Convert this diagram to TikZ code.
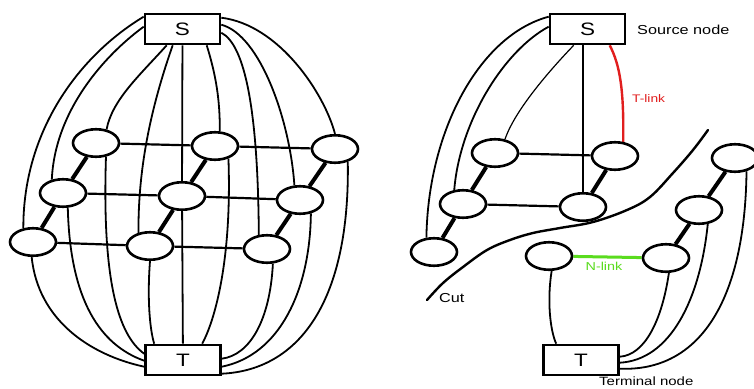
\documentclass[tikz,border=0pt]{standalone}
\usepackage{fontspec}
\newfontfamily\lf[FakeStretch=1.25]{Liberation Sans}
\usetikzlibrary{shapes.geometric,calc,backgrounds}
\definecolor{tred}{RGB}{225,30,30}
\definecolor{ngreen}{RGB}{90,220,30}
\begin{document}
\begin{tikzpicture}[x=1pt,y=-1pt,
  box/.style={draw,line width=2.6pt,minimum width=75pt,minimum height=30pt,inner sep=0pt,fill=white,font=\lf\fontsize{18}{20}\selectfont},
  vx/.style={ellipse,draw,line width=2.6pt,fill=white,minimum width=46pt,minimum height=27.5pt,inner sep=0pt},
  thin/.style={line width=1.8pt},
  hedge/.style={line width=2.2pt},
  dedge/.style={line width=4pt},
  lbl/.style={inner sep=0pt,anchor=west}
]
\useasboundingbox (0,0) rectangle (754,388);

% ---------- left graph ----------
\node[box] (S) at (182.5,29) {S};
\node[box] (T) at (183,360) {T};
\node[vx] (e11) at (96,143) {};
\node[vx] (e12) at (215,146) {};
\node[vx] (e13) at (335,149) {};
\node[vx] (e21) at (63,193) {};
\node[vx] (e22) at (182,196) {};
\node[vx] (e23) at (300,200) {};
\node[vx] (e31) at (33,242) {};
\node[vx] (e32) at (150,246) {};
\node[vx] (e33) at (267,249) {};

% ---------- right graph ----------
\node[box] (S2) at (587.5,29) {S};
\node[box] (T2) at (581,360) {T};
\node[vx] (r1) at (495,153) {};
\node[vx] (r2) at (615,156) {};
\node[vx] (r3) at (463,204) {};
\node[vx] (r4) at (583,207) {};
\node[vx] (r5) at (434,252) {};
\node[vx] (r6) at (735,158) {};
\node[vx] (r7) at (699,210) {};
\node[vx] (r8) at (549,256) {};
\node[vx] (r9) at (666,258) {};

\begin{pgfonlayer}{background}
\fill[white] (0,0) rectangle (754,388);
% left: source curves
\draw[thin] ($(S.north west)+(0,4)$) .. controls (80,55) and (23,130) .. (e31.125);
\draw[thin] ($(S.north west)+(0,14)$) .. controls (105,55) and (55,110) .. (e21.130);
\draw[thin] ($(S.south west)+(23,0)$) .. controls (140,75) and (112,100) .. (e11.52);
\draw[thin] ($(S.south west)+(29,0)$) .. controls (150,110) and (138,170) .. (e32.131);
\draw[thin] ($(S.south west)+(63,0)$) .. controls (216,75) and (220,100) .. (e12.72);
\draw[thin] ($(S.north east)+(0,20)$) .. controls (245,45) and (258,110) .. (e33.120);
\draw[thin] ($(S.north east)+(0,12)$) .. controls (260,35) and (290,120) .. (e23.111);
\draw[thin] ($(S.north east)+(0,5)$) .. controls (280,25) and (325,95) .. (e13.north);
\draw[thin] (S) -- (e22) -- (T);
% left: terminal curves
\draw[thin] (e31.265) .. controls (38,320) and (90,355) .. ($(T.north west)+(0,23)$);
\draw[thin] (e21.288) .. controls (70,300) and (100,345) .. ($(T.north west)+(0,17)$);
\draw[thin] (e11.306) .. controls (102,280) and (118,335) .. ($(T.north west)+(0,10)$);
\draw[thin] (e32.south) .. controls (147,300) and (150,330) .. ($(T.north west)+(10,0)$);
\draw[thin] (e12.317) .. controls (232,260) and (215,320) .. ($(T.north west)+(58,0)$);
\draw[thin] (e33.292) .. controls (270,320) and (250,355) .. ($(T.north east)+(0,15)$);
\draw[thin] (e23.309) .. controls (310,290) and (280,355) .. ($(T.north east)+(0,23)$);
\draw[thin] (e13.315) .. controls (350,300) and (300,370) .. ($(T.north east)+(0,30)$);
% left: grid
\draw[hedge] (e11) -- (e12);
\draw[hedge] (e12) -- (e13);
\draw[hedge] (e21) -- (e22);
\draw[hedge] (e22) -- (e23);
\draw[hedge] (e31) -- (e32);
\draw[hedge] (e32) -- (e33);
\draw[dedge] (e11) -- (e21);
\draw[dedge] (e21) -- (e31);
\draw[dedge] (e12) -- (e22);
\draw[dedge] (e22) -- (e32);
\draw[dedge] (e13) -- (e23);
\draw[dedge] (e23) -- (e33);

% right: source side
\draw[thin] ($(S2.north west)+(0,4)$) .. controls (480,35) and (428,130) .. (r5.118);
\draw[thin] ($(S2.north west)+(0,14)$) .. controls (505,50) and (460,120) .. (r3.122);
\draw[line width=1.2pt] ($(S2.south west)+(25,0)$) .. controls (550,70) and (515,110) .. (r1.54);
\draw[thin] (S2.south -| r4) -- (r4);
\draw[line width=2.4pt,tred] ($(S2.south west)+(61,0)$) .. controls (620,65) and (624,90) .. (r2.60);
\draw[hedge] (r1) -- (r2);
\draw[hedge] (r3) -- (r4);
\draw[dedge] (r1) -- (r3);
\draw[dedge] (r2) -- (r4);
\draw[dedge] (r3) -- (r5);
% right: terminal side
\draw[line width=3pt,ngreen] (r8) -- (r9);
\draw[dedge] (r9) -- (r7);
\draw[dedge] (r7) -- (r6);
\draw[thin] (r8.280) .. controls (547,300) and (550,330) .. ($(T2.north west)+(14,0)$);
\draw[thin] (r9.281) .. controls (662,320) and (645,355) .. ($(T2.north east)+(0,13)$);
\draw[thin] (r7.302) .. controls (700,300) and (670,360) .. ($(T2.north east)+(0,19)$);
\draw[thin] (r6.311) .. controls (745,300) and (700,372) .. ($(T2.north east)+(0,25)$);
\end{pgfonlayer}

% cut line
\draw[line width=2.4pt,line cap=round] plot[smooth,tension=0.6] coordinates {(427,300) (443,283) (463,267) (487,250) (510,240) (533,233) (560,228) (593,222) (627,210) (650,197) (673,173) (693,150) (708,130)};

% labels
\node[lbl,font=\lf\fontsize{13}{15}\selectfont] (srcl) at (637,30) {Source node};
\node[lbl,font=\lf\fontsize{11}{13}\selectfont,text=tred] (tl) at (632,99) {T-link};
\node[inner sep=0pt,font=\lf\fontsize{11.5}{13}\selectfont,text=ngreen] (nl) at (604,266) {N-link};
\node[lbl,font=\lf\fontsize{13}{15}\selectfont] (cutl) at (439,298) {Cut};
\node[inner sep=0pt,anchor=base west,font=\lf\fontsize{12}{14}\selectfont] (terml) at (599,385.5) {Terminal node};
\end{tikzpicture}
\end{document}
